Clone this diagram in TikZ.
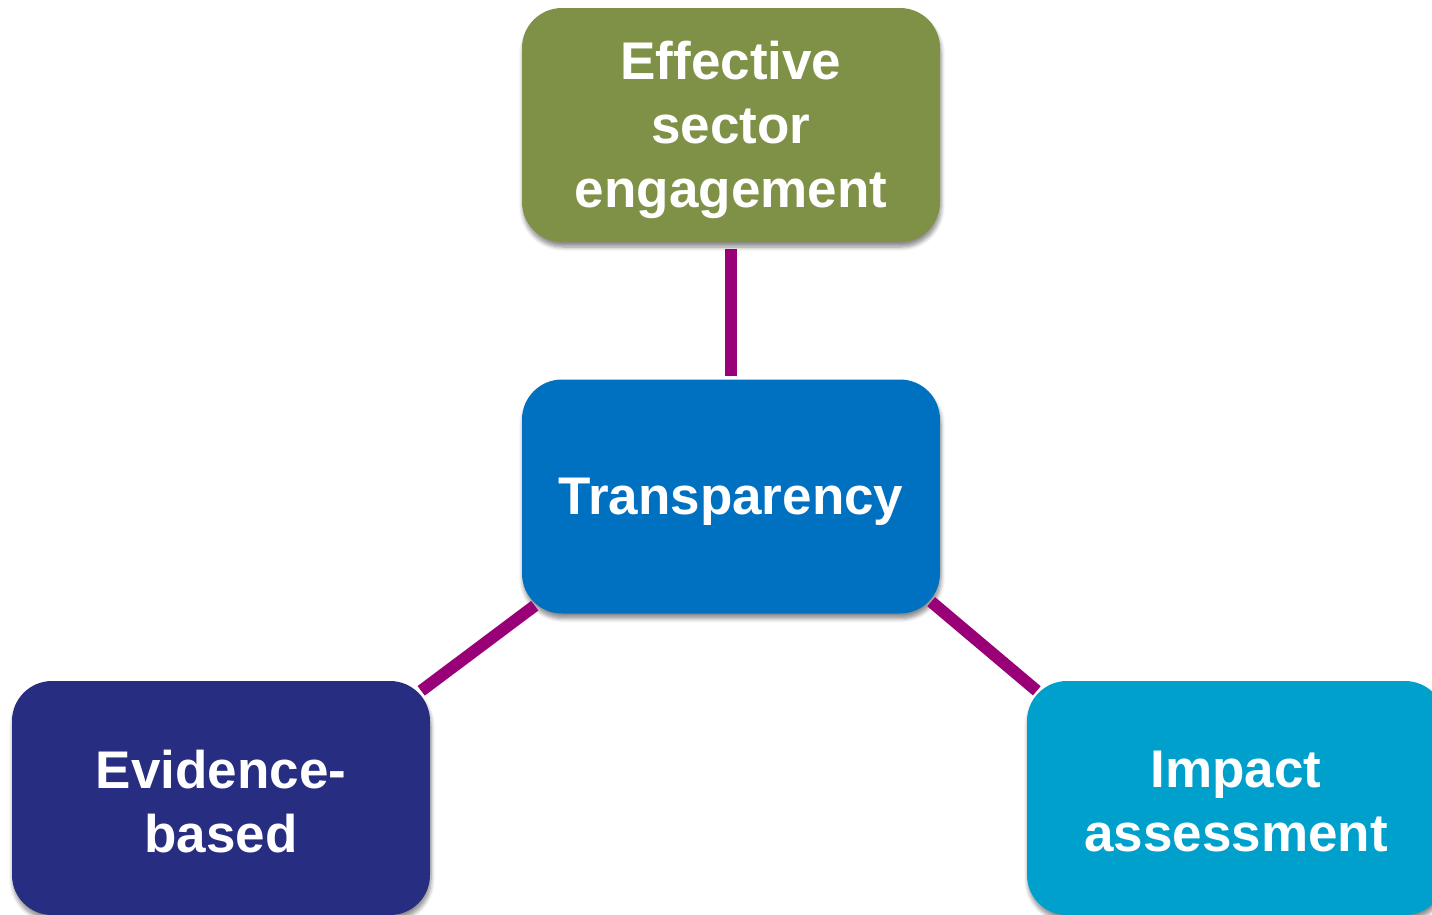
\documentclass[tikz,border=0pt]{standalone}
\usepackage{fontspec}
\setmainfont{Liberation Sans}
\usetikzlibrary{shadows.blur,backgrounds}
\definecolor{cgreen}{RGB}{127,145,71}
\definecolor{cblue}{RGB}{0,112,192}
\definecolor{cnavy}{RGB}{39,45,128}
\definecolor{ccyan}{RGB}{0,160,205}
\definecolor{clink}{RGB}{153,0,120}
\tikzset{
  box/.style={rounded corners=40pt, minimum width=418pt, minimum height=234pt,
    inner sep=0pt,
    blur shadow={shadow xshift=1pt, shadow yshift=-5pt, shadow blur steps=6, shadow opacity=45, shadow blur radius=4pt}},
  txt/.style={inner sep=0pt, text=white, align=center,
    font=\fontsize{53}{64}\selectfont\bfseries},
  link/.style={line width=12pt, draw=clink}
}
\begin{document}
\begin{tikzpicture}[x=1pt,y=-1pt]
\useasboundingbox (0,0) rectangle (1432,914);
\node[box, fill=cgreen] (eff) at (731,125) {};
\node[box, fill=cblue] (tra) at (731,496.5) {};
\node[box, fill=cnavy] (evi) at (221,798) {};
\node[box, fill=ccyan] (imp) at (1236,798) {};
\node[txt] (efft) at ([yshift=-5pt]eff.center) {Effective\\sector\\engagement};
\node[txt] (trat) at ([yshift=-5pt]tra.center) {Transparency};
\node[txt] (evit) at ([yshift=-4pt]evi.center) {Evidence-\\based};
\node[txt] (impt) at ([yshift=-4pt]imp.center) {Impact\\assessment};
\draw[link] ([yshift=-7pt]eff.south) -- ([yshift=3pt]tra.north);
\draw[link] ([shift={(13,-8)}]tra.south west) -- ([shift={(-9,10)}]evi.north east);
\draw[link] ([shift={(-9,-12)}]tra.south east) -- ([shift={(10,10)}]imp.north west);
\end{tikzpicture}
\end{document}
